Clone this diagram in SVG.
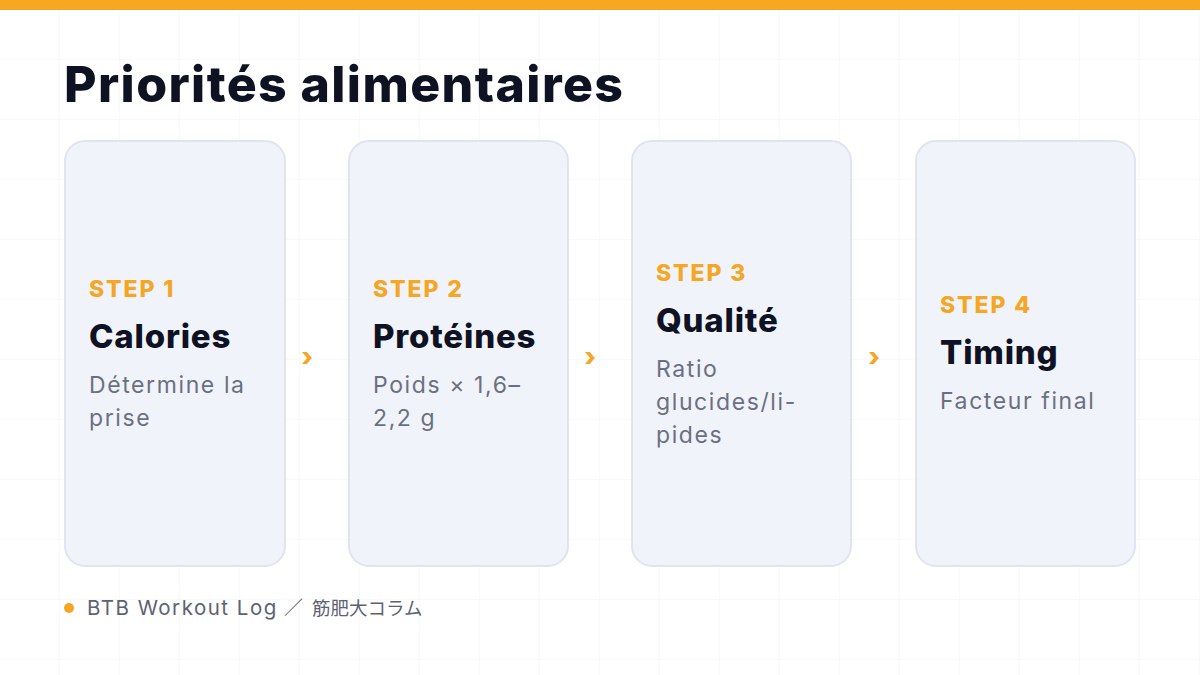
<svg xmlns="http://www.w3.org/2000/svg" width="1200" height="675" viewBox="0 0 1200 675">
<defs>
<pattern id="grid" width="60" height="60" patternUnits="userSpaceOnUse">
<path d="M60 0V60M0 60H60" fill="none" stroke="#f1f2f5" stroke-width="1"/>
</pattern>
<style>
.card{fill:#f1f3fb;stroke:#e1e4ef;stroke-width:2}
.step{font-family:Inter,"Liberation Sans",sans-serif;font-weight:800;font-size:23px;fill:#f5a623;letter-spacing:1.9px}
.head{font-family:Inter,"Liberation Sans",sans-serif;font-weight:800;font-size:33px;fill:#0f1222;letter-spacing:0.8px}
.desc{font-family:Inter,"Liberation Sans",sans-serif;font-size:23px;fill:#6b7080;letter-spacing:1.6px}
.arrow{font-family:Inter,"Liberation Sans",sans-serif;font-weight:800;font-size:26px;fill:#f5a623}
</style>
</defs>
<rect width="1200" height="675" fill="#ffffff"/>
<rect width="1200" height="675" fill="url(#grid)"/>
<rect x="0" y="0" width="1200" height="10" fill="#f6a823"/>
<text x="64" y="102" font-family="Inter,'Liberation Sans',sans-serif" font-weight="800" font-size="50" fill="#0f1222" letter-spacing="1.4">Priorités alimentaires</text>
<g id="card1">
<rect class="card" x="65" y="141" width="220" height="425" rx="20"/>
<text class="step" x="89" y="297">STEP 1</text>
<text class="head" x="89" y="348">Calories</text>
<text class="desc" x="89" y="393">Détermine la</text>
<text class="desc" x="89" y="426">prise</text>
</g>
<g id="card2">
<rect class="card" x="349" y="141" width="219" height="425" rx="20"/>
<text class="step" x="373" y="297">STEP 2</text>
<text class="head" x="373" y="348">Protéines</text>
<text class="desc" x="373" y="393">Poids × 1,6–</text>
<text class="desc" x="373" y="426">2,2 g</text>
</g>
<g id="card3">
<rect class="card" x="632" y="141" width="219" height="425" rx="20"/>
<text class="step" x="656" y="281">STEP 3</text>
<text class="head" x="656" y="332">Qualité</text>
<text class="desc" x="656" y="377">Ratio</text>
<text class="desc" x="656" y="410">glucides/li-</text>
<text class="desc" x="656" y="443">pides</text>
</g>
<g id="card4">
<rect class="card" x="916" y="141" width="219" height="425" rx="20"/>
<text class="step" x="940" y="313">STEP 4</text>
<text class="head" x="940" y="364">Timing</text>
<text class="desc" x="940" y="409">Facteur final</text>
</g>
<g id="connectors">
<text class="arrow" x="307" y="366" text-anchor="middle">›</text>
<text class="arrow" x="590" y="366" text-anchor="middle">›</text>
<text class="arrow" x="874" y="366" text-anchor="middle">›</text>
</g>
<g id="footer">
<circle cx="69" cy="608" r="5" fill="#f5a623"/>
<text y="615" font-family="Inter,'Liberation Sans','Noto Sans CJK JP',sans-serif" font-size="20.5" fill="#5d6272"><tspan x="87" letter-spacing="1.5">BTB Workout Log</tspan><tspan x="284" font-family="'Noto Sans CJK JP',sans-serif" font-size="19">／</tspan><tspan x="312" font-family="'Noto Sans CJK JP',sans-serif" font-size="18.5">筋肥大コラム</tspan></text>
</g>
</svg>
